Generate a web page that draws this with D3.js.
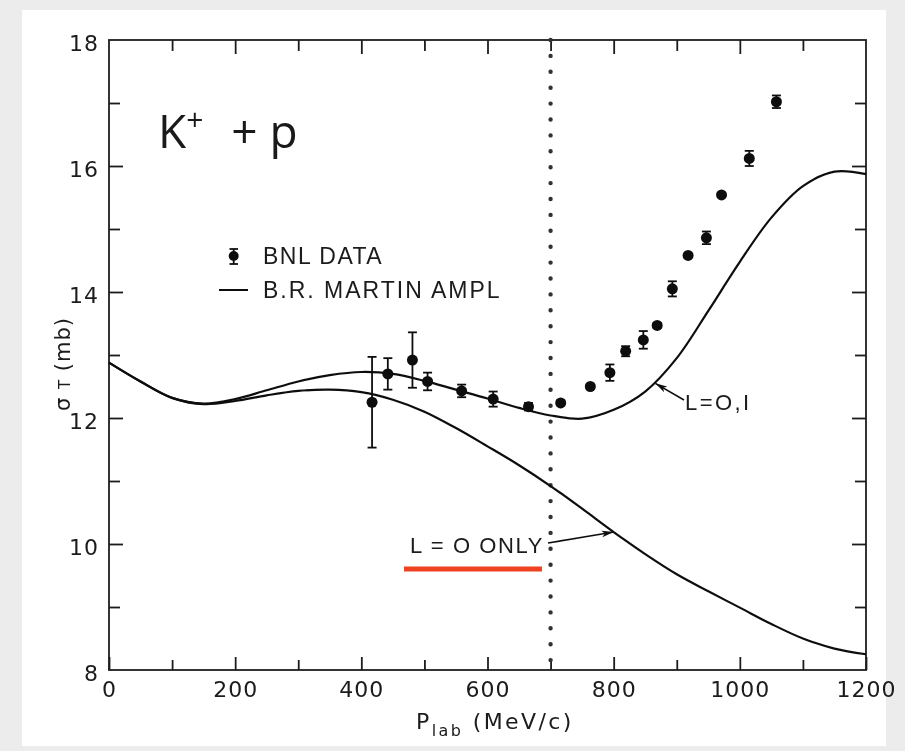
<!DOCTYPE html>
<html>
<head>
<meta charset="utf-8">
<script src="https://cdn.jsdelivr.net/npm/d3@7"></script>
<style>
  html, body { margin: 0; padding: 0; background: #ececec; }
  svg { display: block; }
  text { font-family: "DejaVu Sans", "Liberation Sans", sans-serif; fill: #1a1a1a; }
</style>
</head>
<body>
<svg id="chart" width="905" height="751"></svg>
<script>
// K+ p total cross section versus lab momentum
const momentum = [417, 442, 481, 505, 559, 609, 665, 716, 763, 794, 819, 847, 869, 893, 918, 947, 971, 1015, 1058];
const sigma    = [12.25, 12.70, 12.92, 12.58, 12.43, 12.30, 12.18, 12.24, 12.50, 12.72, 13.06, 13.24, 13.47, 14.05, 14.58, 14.86, 15.54, 16.12, 17.02];
const sigmaErr = [0.72, 0.25, 0.44, 0.14, 0.10, 0.12, 0.06, 0.04, 0.03, 0.13, 0.08, 0.14, 0.04, 0.12, 0.03, 0.10, 0.03, 0.12, 0.10];

// B.R. Martin amplitude predictions
const curveP   = [0, 50, 100, 150, 200, 250, 300, 350, 400, 450, 500, 550, 600, 650, 700, 750, 800, 850, 900, 950, 1000, 1050, 1100, 1150, 1200];
const sigmaL01 = [12.88, 12.58, 12.32, 12.23, 12.30, 12.44, 12.58, 12.68, 12.73, 12.70, 12.59, 12.45, 12.31, 12.16, 12.04, 11.99, 12.13, 12.42, 12.95, 13.70, 14.48, 15.18, 15.68, 15.91, 15.87];
const sigmaL0  = [12.88, 12.58, 12.32, 12.22, 12.27, 12.36, 12.43, 12.45, 12.41, 12.29, 12.10, 11.84, 11.55, 11.25, 10.92, 10.56, 10.19, 9.84, 9.52, 9.25, 8.99, 8.73, 8.50, 8.34, 8.25];

const xMajor = [0, 200, 400, 600, 800, 1000, 1200];
const xMinor = [100, 300, 500, 700, 900, 1100];
const yMajor = [8, 10, 12, 14, 16, 18];
const yMinor = [9, 11, 13, 15, 17];
const threshold = 700;

const svg = d3.select("#chart");

// paper panel
svg.append("rect").attr("x", 22).attr("y", 10).attr("width", 864).attr("height", 736).attr("fill", "#ffffff");

const defs = svg.append("defs");
defs.append("filter").attr("id", "soft")
  .append("feGaussianBlur").attr("stdDeviation", 0.45);
defs.append("marker")
  .attr("id", "arrow").attr("viewBox", "0 -4 12 8")
  .attr("refX", 12).attr("refY", 0)
  .attr("markerWidth", 12).attr("markerHeight", 8)
  .attr("markerUnits", "userSpaceOnUse").attr("orient", "auto")
  .append("path").attr("d", "M0,-3.2L12,0L0,3.2L3,0Z").attr("fill", "#111");

const x = d3.scaleLinear().domain([0, 1200]).range([109, 866]);
const y = d3.scaleLinear().domain([8, 18]).range([670, 40]);

const g = svg.append("g").attr("filter", "url(#soft)");
const ink = "#1c1c1c";

// frame
g.append("rect")
  .attr("x", x(0)).attr("y", y(18))
  .attr("width", x(1200) - x(0)).attr("height", y(8) - y(18))
  .attr("fill", "none").attr("stroke", ink).attr("stroke-width", 1.8);

function styleAxis(sel) {
  sel.select(".domain").remove();
  sel.selectAll(".tick line").attr("stroke", ink).attr("stroke-width", 1.8);
  sel.selectAll(".tick text")
    .attr("fill", ink)
    .style("font-family", "'DejaVu Sans', sans-serif")
    .style("font-size", "22px")
    .style("letter-spacing", "1px");
}

// bottom axis
g.append("g").attr("transform", `translate(0,${y(8)})`)
  .call(d3.axisBottom(x).tickValues(xMajor).tickSizeInner(-13).tickSizeOuter(0).tickPadding(11).tickFormat(d3.format("d")))
  .call(styleAxis);
g.append("g").attr("transform", `translate(0,${y(8)})`)
  .call(d3.axisBottom(x).tickValues(xMinor).tickSizeInner(-10).tickSizeOuter(0).tickFormat(""))
  .call(styleAxis);
// top axis
g.append("g").attr("transform", `translate(0,${y(18)})`)
  .call(d3.axisTop(x).tickValues(xMajor.slice(1, -1)).tickSizeInner(-14).tickSizeOuter(0).tickFormat(""))
  .call(styleAxis);
g.append("g").attr("transform", `translate(0,${y(18)})`)
  .call(d3.axisTop(x).tickValues(xMinor).tickSizeInner(-11).tickSizeOuter(0).tickFormat(""))
  .call(styleAxis);
// left axis
const yl = g.append("g").attr("transform", `translate(${x(0)},0)`)
  .call(d3.axisLeft(y).tickValues(yMajor).tickSizeInner(-14).tickSizeOuter(0).tickPadding(10).tickFormat(d3.format("d")))
  .call(styleAxis);
yl.selectAll(".tick text").attr("dy", "0.46em");
yl.selectAll(".tick line").filter(d => d === 8 || d === 18).remove();
g.append("g").attr("transform", `translate(${x(0)},0)`)
  .call(d3.axisLeft(y).tickValues(yMinor).tickSizeInner(-11).tickSizeOuter(0).tickFormat(""))
  .call(styleAxis);
// right axis
g.append("g").attr("transform", `translate(${x(1200)},0)`)
  .call(d3.axisRight(y).tickValues(yMajor.slice(1, -1)).tickSizeInner(-14).tickSizeOuter(0).tickFormat(""))
  .call(styleAxis);
g.append("g").attr("transform", `translate(${x(1200)},0)`)
  .call(d3.axisRight(y).tickValues(yMinor).tickSizeInner(-11).tickSizeOuter(0).tickFormat(""))
  .call(styleAxis);

// axis titles
const xt = g.append("text").attr("x", 416).attr("y", 729)
  .style("font-size", "22px").style("letter-spacing", "2.4px").attr("fill", ink);
xt.append("tspan").text("P");
xt.append("tspan").attr("dy", 7).style("font-size", "16px").text("lab");
xt.append("tspan").attr("dy", -7).text(" (MeV/c)");

const yt = g.append("text").attr("transform", "translate(70,411) rotate(-90)")
  .style("font-size", "21px").style("letter-spacing", "1px").attr("fill", ink);
yt.append("tspan").text("σ ");
yt.append("tspan").style("font-size", "15px").text("T");
yt.append("tspan").text(" (mb)");

// threshold marker
g.append("line")
  .attr("x1", x(threshold)).attr("x2", x(threshold))
  .attr("y1", y(18)).attr("y2", y(8))
  .attr("stroke", "#333").attr("stroke-width", 4.4)
  .attr("stroke-linecap", "round").attr("stroke-dasharray", "0 15.9");

// model curves
const line = d3.line().x(d => x(d[0])).y(d => y(d[1])).curve(d3.curveCatmullRom.alpha(0.5));
[sigmaL01, sigmaL0].forEach(vals => {
  g.append("path")
    .datum(curveP.map((p, i) => [p, vals[i]]))
    .attr("d", line)
    .attr("fill", "none").attr("stroke", "#111").attr("stroke-width", 2.2);
});

// data with error bars
const pts = momentum.map((p, i) => ({ p, s: sigma[i], e: sigmaErr[i] }));
const pg = g.append("g").selectAll("g").data(pts).join("g");
pg.append("line")
  .attr("x1", d => x(d.p)).attr("x2", d => x(d.p))
  .attr("y1", d => y(d.s - d.e)).attr("y2", d => y(d.s + d.e))
  .attr("stroke", "#111").attr("stroke-width", 1.8);
[-1, 1].forEach(sgn => {
  pg.append("line")
    .attr("x1", d => x(d.p) - 4.5).attr("x2", d => x(d.p) + 4.5)
    .attr("y1", d => y(d.s + sgn * d.e)).attr("y2", d => y(d.s + sgn * d.e))
    .attr("stroke", "#111").attr("stroke-width", 1.8);
});
pg.append("circle")
  .attr("cx", d => x(d.p)).attr("cy", d => y(d.s))
  .attr("r", 5.5).attr("fill", "#111");

// legend
const lg = g.append("g");
lg.append("line").attr("x1", 233.7).attr("x2", 233.7).attr("y1", 249).attr("y2", 264).attr("stroke", "#111").attr("stroke-width", 1.8);
lg.append("line").attr("x1", 229.5).attr("x2", 238).attr("y1", 249).attr("y2", 249).attr("stroke", "#111").attr("stroke-width", 1.8);
lg.append("line").attr("x1", 229.5).attr("x2", 238).attr("y1", 264).attr("y2", 264).attr("stroke", "#111").attr("stroke-width", 1.8);
lg.append("circle").attr("cx", 233.7).attr("cy", 256).attr("r", 5).attr("fill", "#111");
lg.append("line").attr("x1", 219).attr("x2", 248).attr("y1", 290).attr("y2", 290).attr("stroke", "#111").attr("stroke-width", 2);
lg.append("text").attr("x", 263).attr("y", 264).style("font-size", "23px").style("letter-spacing", "1.5px").attr("fill", ink)
  .style("font-family", "'Liberation Sans', sans-serif").text("BNL DATA");
lg.append("text").attr("x", 263).attr("y", 298).style("font-size", "23px").style("letter-spacing", "2px").attr("fill", ink)
  .style("font-family", "'Liberation Sans', sans-serif").text("B.R. MARTIN AMPL");

// curve annotations
const ann = [
  { label: "L = O ONLY", tx: 410, ty: 553, from: [548, 543], at: [800, 10.19], spacing: "1.6px" },
  { label: "L=O,I", tx: 685, ty: 410, from: [684, 400], at: [866, 12.55], spacing: "2.4px" }
];
ann.forEach(a => {
  g.append("line")
    .attr("x1", a.from[0]).attr("y1", a.from[1])
    .attr("x2", x(a.at[0])).attr("y2", y(a.at[1]))
    .attr("stroke", "#111").attr("stroke-width", 1.6)
    .attr("marker-end", "url(#arrow)");
  g.append("text").attr("x", a.tx).attr("y", a.ty)
    .style("font-family", "'Liberation Sans', sans-serif")
    .style("font-size", "22px").style("letter-spacing", a.spacing).attr("fill", ink)
    .text(a.label);
});

// overlay: reaction label and highlight bar
const title = svg.append("text").attr("x", 158).attr("y", 148)
  .style("font-family", "'Open Sans', sans-serif").style("font-size", "46px").attr("fill", "#000");
title.append("tspan").text("K");
title.append("tspan").attr("dy", -18).style("font-size", "30px").text("+");
title.append("tspan").attr("dy", 18).attr("dx", 16).text(" + p");

svg.append("line").attr("x1", 404).attr("x2", 542).attr("y1", 569).attr("y2", 569)
  .attr("stroke", "#ef4221").attr("stroke-width", 5);
</script>
</body>
</html>
